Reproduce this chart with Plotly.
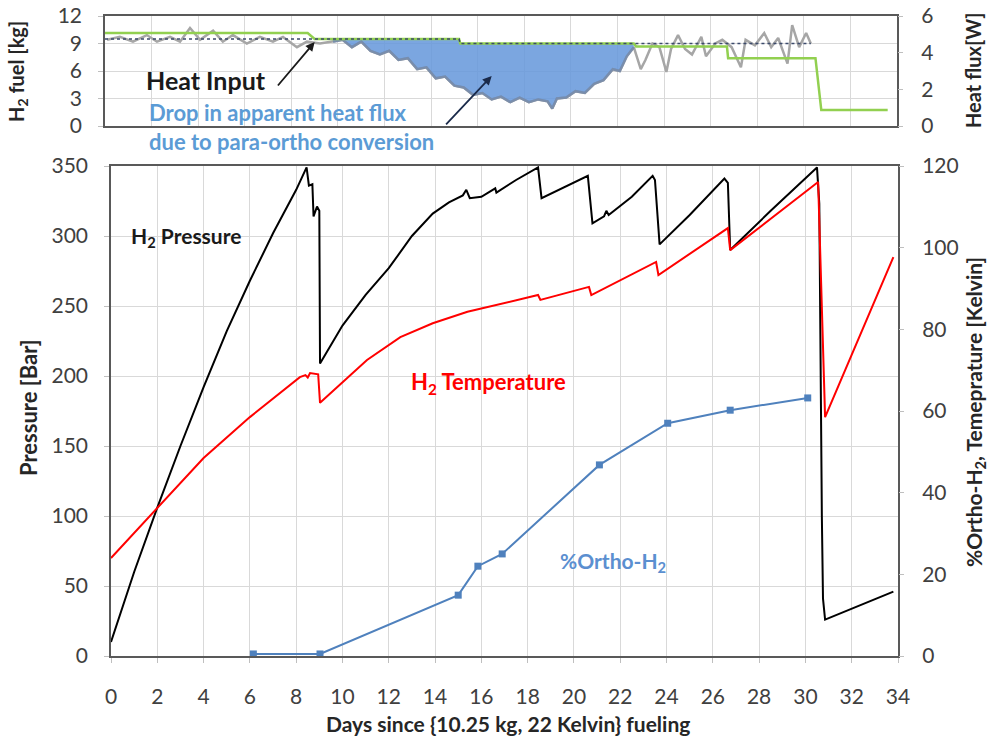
import plotly.graph_objects as go

# ---------------- data ----------------
# Bottom panel: H2 pressure [bar] (left axis)
p_days = [0, 1, 2, 3, 4, 5, 6, 7, 8, 8.45, 8.55, 8.7, 8.75, 8.9, 9.0, 9.03,
          10, 11, 12, 13, 13.9, 14.6, 15.2, 15.35, 15.5, 16.0, 16.6, 16.65, 17.5,
          18.45, 18.6, 19.5, 20.6, 20.8, 21.3, 21.4, 21.5, 22.5, 23.4, 23.5, 23.7,
          25.0, 26.4, 26.5, 26.65, 26.75, 28.5, 30.5, 30.6, 30.65, 30.71, 30.76,
          30.85, 33.8]
p_bar = [10, 60, 106, 150, 192, 232, 268, 302, 333, 349, 336, 337, 314, 321, 318, 209,
         236, 258, 277, 300, 316, 324, 329, 333, 327, 328, 334, 331, 340,
         349, 327, 334, 343, 309, 314, 318, 315, 328, 343, 340, 294,
         315, 339, 341, 338, 290, 318, 349, 323, 200, 100, 41,
         26, 46]

# Bottom panel: H2 temperature [K] (right axis)
t_days = [0, 2, 4, 6, 8.16, 8.4, 8.5, 8.6, 8.95, 9.03, 11.06, 12.5, 13.9, 15.4,
          16.8, 18.45, 18.55, 20.65, 20.75, 23.55, 23.65, 26.65, 26.75, 30.55,
          30.85, 33.8]
t_kelvin = [24, 36.2, 48.5, 58.5, 68.3, 68.8, 68.2, 69.3, 69.0, 62.0, 72.5, 78.1,
            81.5, 84.3, 86.2, 88.4, 87.2, 90.4, 88.4, 96.5, 93.3, 104.8, 99.4,
            116.1, 58.5, 97.7]

# Bottom panel: % ortho-H2 (right axis)
o_days = [6.15, 9.03, 15.0, 15.85, 16.9, 21.1, 24.05, 26.75, 30.1]
o_pct = [0.5, 0.5, 14.9, 22.0, 25.0, 46.8, 57.0, 60.2, 63.2]

# Top panel: measured (apparent) heat flux [W]
f_days = [0.09, 0.64, 1.2, 1.8, 2.23, 2.79, 3.22, 3.65, 4.08, 4.64, 5.06, 5.49,
          6.09, 6.65, 7.21, 7.64, 8.24, 8.67, 9.23, 9.79, 10.2, 10.6, 11.0, 11.4,
          11.8, 12.2, 12.6, 13.0, 13.4, 13.8, 14.2, 14.6, 15.0, 15.4, 15.8, 16.2,
          16.6, 17.0, 17.4, 17.8, 18.2, 18.6, 19.0, 19.2, 19.4, 19.8, 20.2, 20.6,
          21.0, 21.4, 21.8, 22.1, 22.4, 22.7, 23.0, 23.2, 23.5, 23.8, 24.1, 24.3,
          24.6, 24.9, 25.2, 25.6, 25.8, 26.2, 26.5, 26.9, 27.3, 27.5, 27.9, 28.3,
          28.6, 28.9, 29.3, 29.5, 29.8, 30.1, 30.3]
f_watt = [4.7, 4.86, 4.6, 4.96, 4.6, 4.86, 4.6, 5.35, 4.7, 5.2, 4.6, 4.96,
          4.5, 4.86, 4.6, 4.86, 4.3, 4.6, 4.5, 4.6, 4.7, 4.3, 4.6, 4.1,
          3.9, 4.1, 3.6, 3.7, 3.1, 3.2, 2.6, 2.7, 2.2, 2.1, 1.7, 1.8,
          1.45, 1.6, 1.3, 1.55, 1.3, 1.45, 1.35, 0.95, 1.5, 1.55, 1.9, 1.8,
          2.3, 2.5, 3.1, 3.0, 3.8, 4.3, 3.1, 3.6, 4.5, 4.3, 2.95, 4.2,
          4.96, 4.2, 3.9, 4.86, 3.8, 4.5, 4.7, 4.3, 3.2, 4.7, 4.4, 5.07,
          4.3, 4.8, 3.4, 5.5, 4.3, 5.07, 4.5]

# Top panel: heat input [W]
h_days = [0, 8.7, 9.0, 15.2, 15.25, 22.7, 22.8, 26.7, 26.75, 30.5, 30.75, 33.6]
h_watt = [5.07, 5.07, 4.75, 4.75, 4.5, 4.5, 4.33, 4.33, 3.7, 3.7, 0.87, 0.87]

# Top panel: expected heat flux baseline (dotted) [W]
b_days = [0, 15.2, 15.25, 30.3]
b_watt = [4.75, 4.75, 4.5, 4.5]

# Region of the apparent heat-flux drop
drop_start, drop_end = 9.79, 22.7

x_ticks = list(range(0, 35, 2))

# ---------------- figure ----------------
W, H = 988, 737
FONT = "Lato"
TICKC = "#404040"
GRID = "#d9d9d9"
FRAME = "#595959"

def px(x):
    return x / W

def py(y):
    return 1 - y / H

fig = go.Figure()

# empty helper trace so that the kg axis of the top panel exists
fig.add_trace(go.Scatter(x=[], y=[], xaxis="x2", yaxis="y3", mode="lines",
                         showlegend=False, hoverinfo="skip"))

# top panel traces (right axis y4)
fig.add_trace(go.Scatter(x=f_days, y=f_watt, mode="lines", xaxis="x2", yaxis="y4",
                         line=dict(color="#a6a6a6", width=2.5), showlegend=False))
top_x = [drop_start] + [d for d in b_days if drop_start < d < drop_end] + [drop_end]
top_y = []
for d in top_x:
    val = b_watt[0]
    for bd, bw in zip(b_days, b_watt):
        if bd <= d:
            val = bw
    top_y.append(val)
fig.add_trace(go.Scatter(x=top_x, y=top_y, mode="lines", xaxis="x2", yaxis="y4",
                         line=dict(width=0, color="rgba(0,0,0,0)"), showlegend=False))
low = [(d, w) for d, w in zip(f_days, f_watt) if drop_start <= d <= drop_end]
fig.add_trace(go.Scatter(x=[d for d, _ in low], y=[w for _, w in low], mode="lines",
                         xaxis="x2", yaxis="y4", fill="tonexty",
                         fillcolor="rgba(100,150,218,0.85)",
                         line=dict(color="rgba(120,140,170,0.9)", width=2.5),
                         showlegend=False))
fig.add_trace(go.Scatter(x=h_days, y=h_watt, mode="lines", xaxis="x2", yaxis="y4",
                         line=dict(color="#92d050", width=2.5), showlegend=False))
fig.add_trace(go.Scatter(x=b_days, y=b_watt, mode="lines", xaxis="x2", yaxis="y4",
                         line=dict(color="#3b4a6b", width=1.5, dash="dot"),
                         showlegend=False))

# bottom panel traces
fig.add_trace(go.Scatter(x=p_days, y=p_bar, mode="lines", xaxis="x", yaxis="y",
                         line=dict(color="#000000", width=2), showlegend=False))
fig.add_trace(go.Scatter(x=t_days, y=t_kelvin, mode="lines", xaxis="x", yaxis="y2",
                         line=dict(color="#ff0000", width=2), showlegend=False))
fig.add_trace(go.Scatter(x=o_days, y=o_pct, mode="lines+markers", xaxis="x", yaxis="y2",
                         line=dict(color="#4f81bd", width=2),
                         marker=dict(symbol="square", size=7, color="#4f81bd"),
                         showlegend=False))

tickfont = dict(family=FONT, size=21, color=TICKC)
axis_common = dict(showline=True, linecolor=FRAME, linewidth=1.5, mirror=True,
                   ticks="outside", ticklen=5, tickcolor="#bfbfbf", tickfont=tickfont,
                   zeroline=False, automargin=False)
right_common = dict(showgrid=False, ticks="outside", ticklen=5, tickcolor="#bfbfbf",
                    tickfont=tickfont, zeroline=False, ticklabelstandoff=14,
                    automargin=False)

fig.update_layout(
    width=W, height=H,
    margin=dict(l=0, r=0, t=0, b=0, autoexpand=False),
    paper_bgcolor="white", plot_bgcolor="white",
    font=dict(family=FONT),
    xaxis=dict(domain=[px(111), px(898)], range=[0, 34], tickvals=x_ticks,
               showgrid=True, gridcolor=GRID, gridwidth=1, anchor="y",
               ticklabelstandoff=16, **axis_common),
    yaxis=dict(domain=[py(656), py(166)], range=[0, 350], dtick=50,
               showgrid=True, gridcolor=GRID, anchor="x",
               ticklabelstandoff=12, **axis_common),
    yaxis2=dict(overlaying="y", side="right", range=[0, 120], dtick=20,
                anchor="x", **right_common),
    xaxis2=dict(domain=[px(105), px(897)], range=[0, 34], tickvals=x_ticks,
                showticklabels=False, showgrid=True, gridcolor=GRID, anchor="y3",
                showline=True, linecolor=FRAME, linewidth=1.5, mirror=True,
                ticks="", zeroline=False, automargin=False),
    yaxis3=dict(domain=[py(126), py(16)], range=[0, 12], dtick=3,
                showgrid=True, gridcolor=GRID, anchor="x2",
                ticklabelstandoff=12, **axis_common),
    yaxis4=dict(overlaying="y3", side="right", range=[0, 6], dtick=2,
                anchor="x2", **right_common),
)

ann = []
# in-plot labels, bottom panel
ann.append(dict(x=3.24, y=299, xref="x", yref="y", text="<b>H<sub>2</sub> Pressure</b>",
                showarrow=False, font=dict(family=FONT, size=21, color="#1a1a1a")))
ann.append(dict(x=16.3, y=195, xref="x", yref="y", text="<b>H<sub>2</sub> Temperature</b>",
                showarrow=False, font=dict(family=FONT, size=22, color="#ff0000")))
ann.append(dict(x=21.7, y=67, xref="x", yref="y", text="<b>%Ortho-H<sub>2</sub></b>",
                showarrow=False, font=dict(family=FONT, size=21, color="#5b8fd0")))
# top panel labels
ann.append(dict(x=4.33, y=2.51, xref="x2", yref="y4", text="<b>Heat Input</b>",
                showarrow=False, font=dict(family=FONT, size=25, color="#1a1a1a")))
ann.append(dict(x=px(147), y=py(127), xref="paper", yref="paper", xanchor="left",
                yanchor="middle", align="left",
                text="<b>Drop in apparent heat flux<br>due to para-ortho conversion</b>",
                showarrow=False, font=dict(family=FONT, size=22, color="#5b9bd5")))
# arrows
ann.append(dict(x=9.0, y=4.58, xref="x2", yref="y4", ax=-38, ay=45, text="",
                showarrow=True, arrowhead=2, arrowsize=1, arrowwidth=1.8,
                arrowcolor="#1a1a1a"))
ann.append(dict(x=16.6, y=2.73, xref="x2", yref="y4", ax=-47, ay=50, text="",
                showarrow=True, arrowhead=2, arrowsize=1, arrowwidth=1.8,
                arrowcolor="#1a2a4a"))
# axis titles
def title(xp, yp, text, size, angle=0):
    return dict(x=px(xp), y=py(yp), xref="paper", yref="paper", xanchor="center",
                yanchor="middle", textangle=angle, text=text, showarrow=False,
                font=dict(family=FONT, size=size, color="#262626"))

ann.append(title(28, 408, "<b>Pressure [Bar]</b>", 22, -90))
ann.append(title(975, 412, "<b>%Ortho-H<sub>2</sub>, Temeprature [Kelvin]</b>", 21, -90))
ann.append(title(508, 723, "<b>Days since {10.25 kg, 22 Kelvin} fueling</b>", 21))
ann.append(title(17, 72, "<b>H<sub>2</sub> fuel [kg]</b>", 20, -90))
ann.append(title(973, 70, "<b>Heat flux[W]</b>", 20, -90))

fig.update_layout(annotations=ann)

fig.write_html("out.html")
